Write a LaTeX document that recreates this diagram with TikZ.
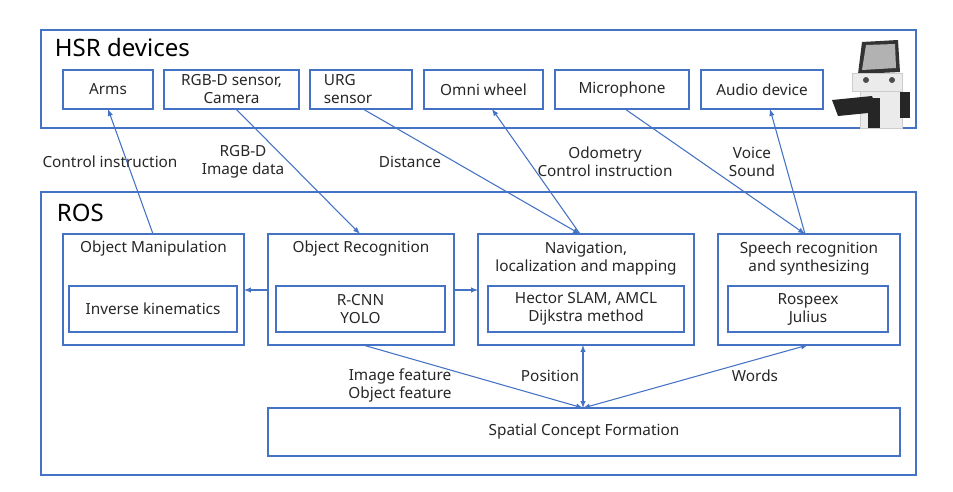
\documentclass[tikz,border=0pt]{standalone}
\usepackage{fontspec}
\setmainfont{Noto Sans}
\definecolor{lineblue}{HTML}{4472C4}
\tikzset{every picture/.style={line width=0.75pt}}
\begin{document}
\begin{tikzpicture}[x=0.75pt,y=0.75pt,yscale=-1,xscale=1,
  box/.style={draw=lineblue,line width=1pt,inner sep=0pt},
  lbl/.style={font=\fontsize{11.5}{13.5}\selectfont,align=center,text=black!85,inner sep=0pt},
  conn/.style={draw=lineblue,line width=0.8pt,-latex},
  both/.style={draw=lineblue,line width=0.8pt,latex-latex}]
\useasboundingbox (0,0) rectangle (953,492);

% HSR devices
\draw [box] (41,30) rectangle (916,128);
\node [anchor=west,font=\fontsize{18}{20}\selectfont] (hsr) at (50,48) {HSR devices};
\draw [box] (63,70) rectangle (153,109);
\node [lbl] (arms) at (108,89.5) {Arms};
\draw [box] (164,70) rectangle (299,109);
\node [lbl] (rgbd) at (231.5,89.5) {RGB-D sensor,\\Camera};
\draw [box] (310,70) rectangle (412,109);
\node [lbl,align=left] (urg) at (348,89.5) {URG\\sensor};
\draw [box] (424,70) rectangle (543,109);
\node [lbl] (omni) at (483.5,89.5) {Omni wheel};
\draw [box] (555,70) rectangle (689,109);
\node [lbl] (mic) at (622,89.5) {Microphone};
\draw [box] (701,70) rectangle (823,109);
\node [lbl] (audio) at (762,89.5) {Audio device};
\coordinate (armsb) at (108,109);
\coordinate (rgbdb) at (236,109);
\coordinate (urgb) at (363,109);
\coordinate (omnib) at (492,109);
\coordinate (micb) at (625,109);
\coordinate (audiob) at (770,109);

% robot
\fill [black!80] (862,42) -- (898,40) -- (900,72) -- (858,74) -- cycle;
\fill [black!30] (866,45) -- (895,44) -- (896,68) -- (862,70) -- cycle;
\fill [black!8,draw=black!20] (852,74) rectangle (902,92);
\fill [black!8,draw=black!20] (860,92) rectangle (902,128);
\fill [black!85] (900,92) rectangle (910,118);
\fill [black!85] (832,100) -- (872,96) -- (878,112) -- (838,116) -- cycle;
\fill [black!85] (868,98) rectangle (880,128);
\fill [black!70] (866,80) circle (3) (892,80) circle (3);

% ROS
\draw [box] (41,192) rectangle (916,475);
\node [anchor=west,font=\fontsize{18}{20}\selectfont] (ros) at (52,213) {ROS};

\draw [box] (63,234) rectangle (244,345);
\node [lbl] (manip) at (153.5,249) {Object Manipulation};
\draw [box] (69,286) rectangle (237,332);
\node [lbl] (ik) at (153,309) {Inverse kinematics};

\draw [box] (268,234) rectangle (454,345);
\node [lbl] (recog) at (361,249) {Object Recognition};
\draw [box] (276,286) rectangle (445,332);
\node [lbl] (cnn) at (360.5,309) {R-CNN\\YOLO};

\draw [box] (478,234) rectangle (694,345);
\node [lbl] (nav) at (586,259) {Navigation,\\localization and mapping};
\draw [box] (488,286) rectangle (684,332);
\node [lbl] (slam) at (586,309) {Hector SLAM, AMCL\\Dijkstra method};

\draw [box] (718,234) rectangle (900,345);
\node [lbl] (speech) at (809,259) {Speech recognition\\and synthesizing};
\draw [box] (728,286) rectangle (888,332);
\node [lbl] (rosp) at (808,309) {Rospeex\\Julius};

\draw [box] (268,408) rectangle (900,456);
\node [lbl] (scf) at (584,432) {Spatial Concept Formation};

\coordinate (manipt) at (153,234);
\coordinate (recogt) at (360,234);
\coordinate (navt) at (580,234);
\coordinate (speecht) at (805,234);
\coordinate (recogl) at (268,290);
\coordinate (manipr) at (244,290);
\coordinate (recogr) at (454,290);
\coordinate (navl) at (478,290);
\coordinate (recogb) at (363,345);
\coordinate (navb) at (583,345);
\coordinate (speechb) at (808,345);
\coordinate (scft) at (583,408);

% connectors
\draw [conn] (manipt) -- (armsb);
\draw [conn] (rgbdb) -- (recogt);
\draw [conn] (urgb) -- (navt);
\draw [conn] (navt) -- (omnib);
\draw [conn] (micb) -- (speecht);
\draw [conn] (speecht) -- (audiob);
\draw [conn] (recogl) -- (manipr);
\draw [conn] (recogr) -- (navl);
\draw [conn] (recogb) -- (scft);
\draw [both] (navb) -- (scft);
\draw [both] (speechb) -- (scft);

% labels
\node [lbl] (l1) at (110,162) {Control instruction};
\node [lbl] (l2) at (243,162) {RGB-D\\Image data};
\node [lbl] (l3) at (410,162) {Distance};
\node [lbl] (l4) at (605,162) {Odometry\\Control instruction};
\node [lbl] (l5) at (752,162) {Voice\\Sound};
\node [lbl] (l6) at (400,385) {Image feature\\Object feature};
\node [lbl] (l7) at (550,376) {Position};
\node [lbl] (l8) at (755,376) {Words};
\end{tikzpicture}
\end{document}
